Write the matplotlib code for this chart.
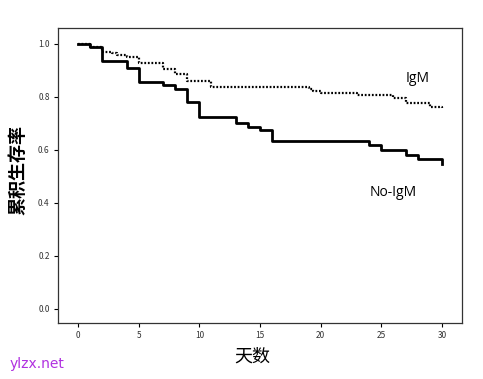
import numpy as np
import matplotlib
matplotlib.use("Agg")
import matplotlib.pyplot as plt

plt.rcParams['font.family'] = ['Noto Sans CJK SC', 'DejaVu Sans']

# No-IgM (solid) step curve
noigm_t = [0, 1, 2, 4, 5, 7, 8, 9, 10, 13, 14, 15, 16, 24, 25, 27, 28, 30]
noigm_s = [1.0, 0.99, 0.936, 0.909, 0.857, 0.845, 0.83, 0.78, 0.725, 0.70, 0.687, 0.675, 0.634, 0.619, 0.60, 0.58, 0.567, 0.547]

# IgM (dotted) step curve
igm_t = [0, 1, 2, 2.8, 3.2, 4, 5, 7, 8, 9, 11, 19, 19.4, 20, 23, 26, 27, 29, 30]
igm_s = [1.0, 0.99, 0.97, 0.965, 0.958, 0.95, 0.928, 0.905, 0.887, 0.86, 0.838, 0.83, 0.823, 0.815, 0.808, 0.796, 0.777, 0.762, 0.758]

xticks = [0, 5, 10, 15, 20, 25, 30]
yticks = [0.0, 0.2, 0.4, 0.6, 0.8, 1.0]

W, H = 483, 379
fig = plt.figure(figsize=(W / 100, H / 100), dpi=100)
ax = fig.add_axes([0.120, 0.148, 0.8365, 0.778])

ax.step(igm_t, igm_s, where='post', color='black', lw=1.6, ls=(0, (0.8, 0.8)))
ax.step(noigm_t, noigm_s, where='post', color='black', lw=2.0)

ax.set_xlim(-1.65, 31.65)
ax.set_ylim(-0.053, 1.06)
ax.set_xticks(xticks)
ax.set_yticks(yticks)
ax.set_xticklabels([str(x) for x in xticks])
ax.set_yticklabels(['%.1f' % y for y in yticks])
ax.tick_params(direction='out', length=3, width=0.8, labelsize=6, labelcolor='#333333', pad=3)
for sp in ax.spines.values():
    sp.set_linewidth(0.9)
    sp.set_color('#333333')

fig.text(418 / W, 1 - 78 / H, 'IgM', fontsize=10, ha='center', va='center', family=['Open Sans', 'DejaVu Sans'])
fig.text(393 / W, 1 - 192 / H, 'No-IgM', fontsize=10, ha='center', va='center', family=['Open Sans', 'DejaVu Sans'])

fig.text(18 / W, 1 - 170 / H, '累积生存率', rotation=90, fontsize=13, fontweight='bold', ha='center', va='center')
fig.text(252 / W, 1 - 357 / H, '天数', fontsize=13, ha='center', va='center')
fig.text(10 / W, 1 - 364 / H, 'ylzx.net', fontsize=10, color='#b030e0', ha='left', va='center', family=['DejaVu Sans'])

fig.savefig('out.png', dpi=100)
